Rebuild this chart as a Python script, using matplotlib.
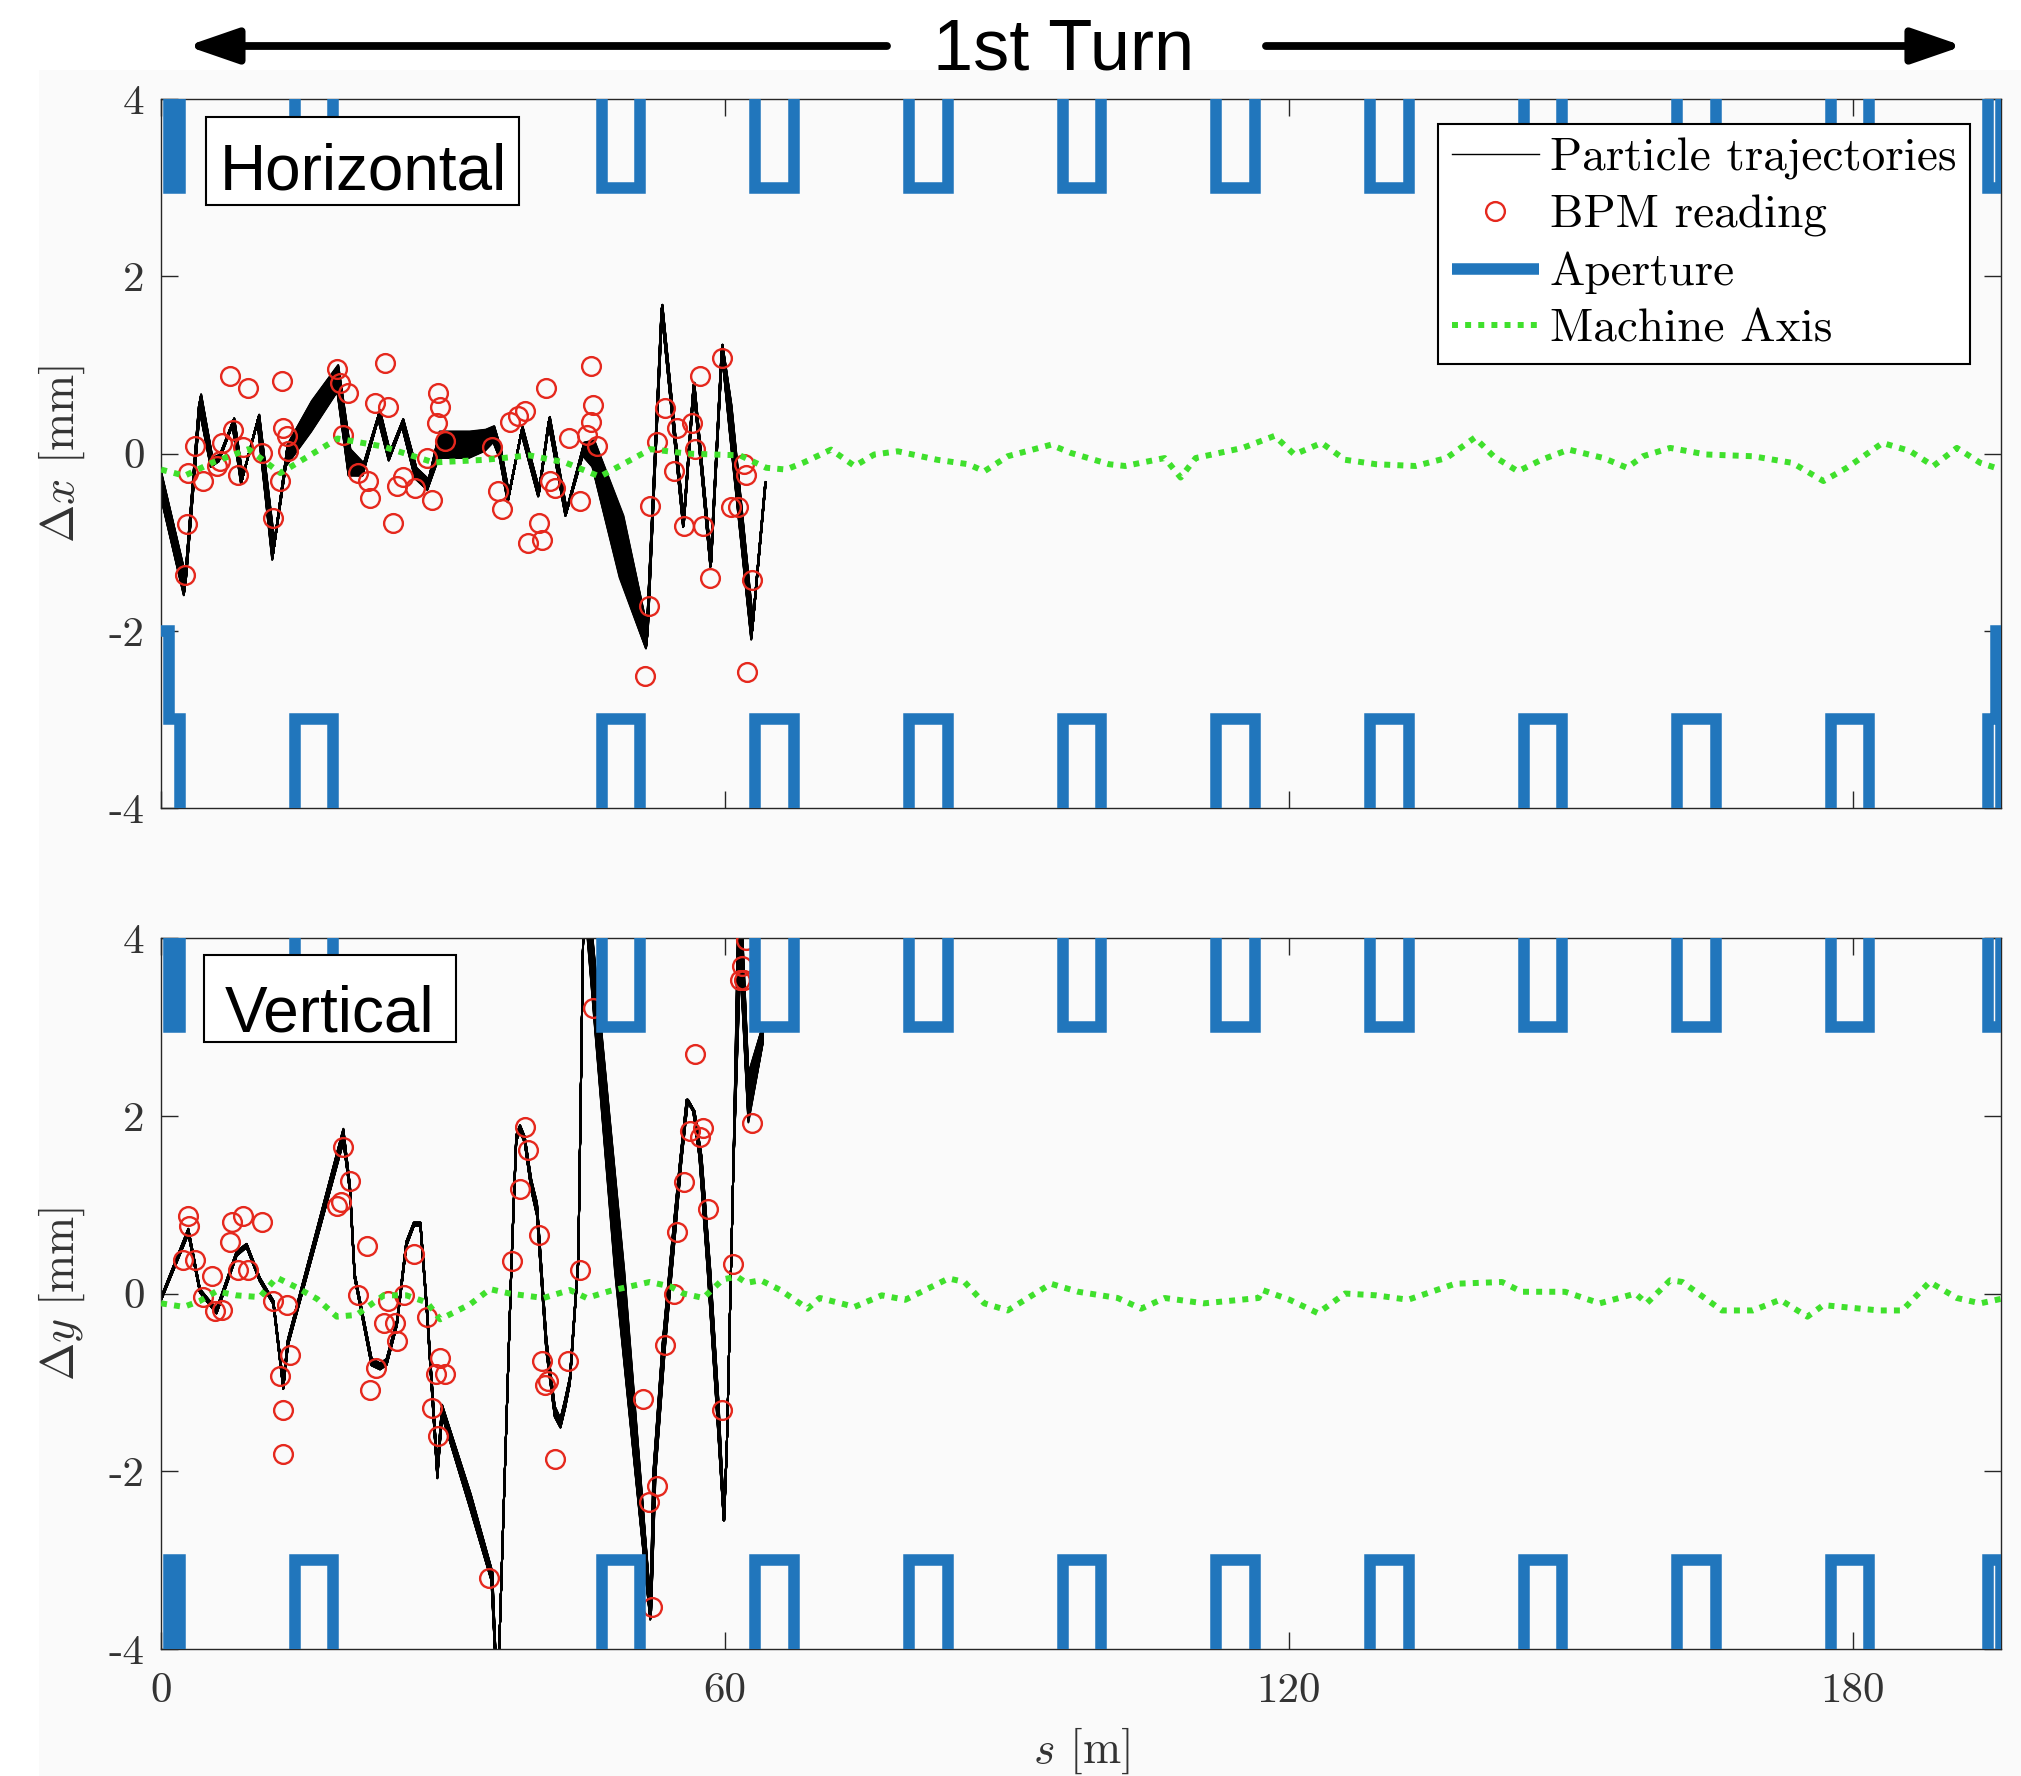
import numpy as np
import matplotlib
matplotlib.use('Agg')
import matplotlib.pyplot as plt
from matplotlib.patches import Rectangle, FancyArrowPatch

plt.rcParams['mathtext.fontset'] = 'cm'
plt.rcParams['axes.unicode_minus'] = False

S_END = 195.8
OPEN = 5.0   # aperture between magnets lies off the plotted range

# quadrupole apertures (start, end) in m
quad_start = [14.2, 46.9, 63.25, 79.6, 95.95, 112.3, 128.65, 145.0, 161.35, 177.7]
quad_end = [18.3, 51.0, 67.35, 83.7, 100.05, 116.4, 132.75, 149.1, 165.45, 181.8]

# horizontal plane: particle bundle (centre, spread along s and x)
hx_s = [0.0, 2.54, 4.14, 5.38, 6.2, 7.69, 8.6, 10.35, 11.95, 13.37, 16.0, 18.8, 20.05, 21.5,
        23.2, 24.3, 25.7, 27.1, 28.4, 29.6, 32.8, 34.5, 35.4, 36.1, 36.96, 38.4, 40.2, 41.3,
        43.1, 44.95, 46.0, 49.0, 51.7, 53.3, 55.6, 56.7, 58.5, 59.7, 60.6, 62.9, 64.3]
hx_v = [-0.35, -1.5, 0.6, -0.1, -0.05, 0.36, -0.3, 0.4, -1.1, -0.02, 0.42, 0.85, -0.1, -0.18,
        0.44, -0.03, 0.35, -0.22, -0.35, 0.1, 0.1, 0.15, 0.22, 0.0, -0.5, 0.27, -0.45, 0.38,
        -0.67, 0.05, 0.0, -1.05, -2.1, 1.65, -0.8, 0.78, -1.25, 1.2, 0.4, -2.0, -0.35]
hx_ds = [0.0, 0.25, 0.25, 0.2, 0.15, 0.2, 0.2, 0.2, 0.25, 0.2, 0.1, 0.1, 0.2, 0.15,
         0.2, 0.15, 0.15, 0.15, 0.15, 0.1, 0.1, 0.1, 0.1, 0.15, 0.15, 0.15, 0.15, 0.15,
         0.15, 0.15, 0.2, 0.4, 0.2, 0.1, 0.1, 0.1, 0.1, 0.1, 0.2, 0.2, 0.1]
hx_dv = [0.3, 0.2, 0.14, 0.1, 0.08, 0.08, 0.08, 0.08, 0.2, 0.25, 0.35, 0.3, 0.3, 0.14,
         0.1, 0.1, 0.08, 0.12, 0.12, 0.3, 0.3, 0.24, 0.18, 0.1, 0.1, 0.07, 0.07, 0.07,
         0.07, 0.15, 0.3, 0.7, 0.2, 0.06, 0.06, 0.04, 0.06, 0.06, 0.3, 0.2, 0.06]

# horizontal BPM readings
bpm_x_s = [2.54, 2.79, 3.61, 2.90, 4.49, 5.91, 6.27, 6.45, 7.33, 7.69, 8.22, 8.75, 9.28, 10.7,
           11.95, 12.65, 12.83, 13.01, 13.37, 13.54, 18.69, 19.04, 19.93, 19.4, 21.0, 22.06,
           22.24, 22.77, 23.83, 24.19, 24.72, 25.07, 25.78, 27.02, 28.27, 28.8, 29.5, 29.7,
           29.34, 30.22, 35.2, 35.9, 36.3, 37.1, 38.0, 38.7, 41.0, 40.2, 39.1, 40.5, 41.4,
           41.9, 43.4, 44.6, 45.3, 45.7, 45.8, 46.0, 46.4, 51.5, 51.9, 52.0, 52.8, 53.6, 54.9,
           54.6, 55.6, 56.5, 56.8, 57.4, 57.7, 58.4, 59.7, 60.7, 61.4, 62.0, 62.2, 62.9, 62.3]
bpm_x_v = [-1.365, -0.80, 0.09, -0.22, -0.31, -0.14, -0.08, 0.12, 0.87, 0.27, -0.24, 0.08,
           0.74, 0.01, -0.73, -0.31, 0.82, 0.29, 0.2, 0.03, 0.95, 0.8, 0.68, 0.215, -0.22,
           -0.31, -0.50, 0.57, 1.02, 0.53, -0.78, -0.37, -0.26, -0.39, -0.05, -0.52, 0.68,
           0.53, 0.35, 0.14, 0.08, -0.42, -0.63, 0.36, 0.42, 0.48, 0.74, -0.78, -1.01, -0.97,
           -0.31, -0.39, 0.18, -0.54, 0.21, 0.36, 0.99, 0.55, 0.09, -2.51, -1.72, -0.59, 0.13,
           0.52, 0.29, -0.2, -0.82, 0.34, 0.05, 0.87, -0.82, -1.4, 1.08, -0.6, -0.6, -0.12,
           -0.24, -1.43, -2.46]

# horizontal machine axis
ax_x_s = [0.0, 2.5, 5.5, 9.3, 12.7, 18.8, 23.6, 29.0, 34.5, 39.2, 43.0, 46.7, 52.1, 56.0,
          61.6, 64.4, 66.5, 68.4, 71.3, 73.8, 75.9, 78.4, 82.6, 85.9, 87.6, 90.1, 94.7, 96.8,
          100.9, 102.6, 106.8, 108.5, 110.1, 115.1, 118.5, 120.6, 123.5, 126.0, 129.3, 133.5,
          136.8, 139.8, 141.8, 144.4, 146.9, 149.8, 153.5, 156.0, 157.7, 160.6, 164.4, 169.4,
          173.6, 176.9, 179.4, 183.2, 186.1, 188.6, 191.1, 193.6, 195.8]
ax_x_v = [-0.18, -0.25, -0.1, 0.05, -0.22, 0.17, 0.08, -0.1, -0.07, -0.02, -0.1, -0.26, 0.05,
          0.0, -0.02, -0.16, -0.18, -0.1, 0.045, -0.14, -0.01, 0.026, -0.07, -0.12, -0.2,
          -0.03, 0.10, 0.008, -0.12, -0.14, -0.05, -0.27, -0.05, 0.064, 0.2, -0.01, 0.12,
          -0.07, -0.12, -0.14, -0.05, 0.18, -0.03, -0.2, -0.07, 0.045, -0.05, -0.16, -0.03,
          0.064, -0.01, -0.03, -0.105, -0.31, -0.16, 0.12, 0.03, -0.14, 0.064, -0.105, -0.18]

# vertical plane: particle bundle (centre, spread along s and y)
vy_s = [0.0, 2.9, 4.14, 5.9, 8.04, 9.1, 10.5, 11.95, 13.0, 13.5, 19.4, 20.1, 20.6, 22.4, 23.3,
        24.0, 25.1, 26.1, 26.9, 27.6, 28.3, 29.0, 29.4, 29.9, 32.9, 35.2, 35.8, 37.3, 37.8,
        38.2, 38.7, 39.4, 40.0, 41.0, 41.9, 42.5, 43.0, 43.5, 44.4, 45.0, 45.4, 48.8, 52.1,
        52.5, 53.5, 54.6, 55.3, 56.0, 56.7, 57.4, 58.3, 59.2, 59.9, 60.2, 60.9, 61.6, 62.5, 64.0]
vy_v = [-0.06, 0.7, 0.03, -0.2, 0.45, 0.54, 0.16, -0.1, -1.04, -0.55, 1.78, 1.18, 0.2, -0.77,
        -0.82, -0.77, -0.33, 0.56, 0.78, 0.78, -0.2, -1.35, -2.02, -1.31, -2.33, -3.18, -4.6,
        0.37, 1.75, 1.86, 1.73, 1.22, 0.95, -0.58, -1.33, -1.46, -1.24, -0.98, 0.37, 4.6, 4.3,
        0.25, -3.62, -2.02, -0.58, 0.69, 1.49, 2.18, 2.05, 1.54, 0.27, -1.22, -2.55, -1.75,
        1.4, 4.2, 2.2, 2.9]
vy_ds = [0, 0, 0, 0, 0, 0, 0, 0, 0, 0, 0, 0, 0, 0, 0, 0, 0, 0, 0, 0, 0, 0, 0, 0, 0.1, 0.1, 0,
         0, 0, 0, 0, 0, 0, 0, 0, 0, 0, 0, 0, 0, 0.5, 1.0, 0.1, 0.25, 0.3, 0.25, 0.15, 0.15,
         0.15, 0.25, 0.3, 0.25, 0.05, 0, 0, 0.4, 0, 0]
vy_dv = [0.03, 0.06, 0.04, 0.05, 0.05, 0.04, 0.04, 0.04, 0.07, 0.07, 0.15, 0.07, 0.05, 0.08,
         0.07, 0.07, 0.05, 0.05, 0.04, 0.04, 0.07, 0.12, 0.12, 0.12, 0.15, 0.1, 0.0, 0.04, 0.07,
         0.07, 0.07, 0.12, 0.15, 0.15, 0.12, 0.1, 0.1, 0.07, 0.04, 0.0, 0.0, 0.0, 0.1, 0.0,
         0.0, 0.0, 0.0, 0.0, 0.0, 0.0, 0.0, 0.0, 0.0, 0.0, 0.0, 0.0, 0.55, 0.2]

# vertical BPM readings
bpm_y_s = [2.9, 3.0, 2.37, 3.61, 4.5, 5.38, 5.74, 6.45, 7.33, 7.51, 8.22, 8.75, 9.28, 10.7,
           11.95, 13.4, 12.65, 13.7, 13.0, 13.0, 19.4, 20.1, 18.7, 19.2, 21.9, 21.0, 24.1,
           23.7, 24.9, 25.8, 25.1, 22.9, 22.2, 26.9, 28.3, 29.7, 29.3, 30.2, 28.8, 29.5, 34.9,
           46.0, 38.7, 39.1, 38.2, 40.2, 37.3, 44.6, 40.5, 43.3, 41.2, 40.9, 41.9, 51.3, 52.8,
           51.9, 52.2, 53.6, 54.6, 54.9, 55.6, 56.3, 57.7, 57.4, 56.8, 58.2, 59.7, 60.9, 62.9,
           62.2, 61.8, 61.6, 62.0]
bpm_y_v = [0.87, 0.76, 0.38, 0.38, -0.04, 0.2, -0.2, -0.18, 0.58, 0.8, 0.27, 0.87, 0.27, 0.8,
           -0.085, -0.13, -0.93, -0.69, -1.31, -1.8, 1.65, 1.27, 0.98, 1.03, 0.54, -0.02,
           -0.085, -0.33, -0.33, -0.02, -0.53, -0.84, -1.09, 0.45, -0.26, -0.73, -0.91, -0.91,
           -1.29, -1.6, -3.2, 3.21, 1.87, 1.62, 1.18, 0.66, 0.37, 0.27, -0.76, -0.76, -0.98,
           -1.03, -1.86, -1.19, -2.16, -2.35, -3.53, -0.58, 0.0, 0.69, 1.26, 1.83, 1.86, 1.76,
           2.7, 0.95, -1.31, 0.33, 1.92, 3.98, 3.69, 3.53, 3.53]

# vertical machine axis
ax_y_s = [0.0, 2.4, 4.1, 5.9, 8.0, 10.5, 12.3, 14.4, 16.6, 18.7, 20.8, 23.7, 26.1, 28.3, 29.7,
          32.9, 35.0, 37.1, 40.7, 43.5, 45.3, 47.8, 49.9, 52.0, 54.2, 55.6, 57.7, 59.8, 61.3,
          62.3, 63.8, 65.9, 68.8, 70.1, 73.8, 76.7, 79.2, 83.8, 85.5, 87.6, 90.1, 94.7, 97.6,
          101.8, 104.3, 106.8, 111.0, 116.8, 117.2, 120.1, 123.1, 126.0, 129.3, 132.7, 137.7,
          142.7, 144.8, 149.4, 153.1, 156.9, 158.1, 160.6, 161.9, 166.1, 169.4, 172.3, 175.2,
          176.9, 182.8, 185.3, 188.2, 191.1, 193.6, 195.8]
ax_y_v = [-0.11, -0.15, -0.085, 0.026, -0.02, -0.04, 0.18, 0.07, -0.06, -0.26, -0.24, -0.02,
          -0.02, -0.1, -0.29, -0.12, 0.05, 0.0, -0.05, 0.04, -0.05, 0.03, 0.08, 0.13, 0.08,
          0.0, -0.05, 0.16, 0.19, 0.12, 0.15, 0.04, -0.17, -0.05, -0.15, -0.02, -0.07, 0.17,
          0.13, -0.11, -0.19, 0.11, 0.02, -0.05, -0.17, -0.05, -0.11, -0.05, 0.04, -0.07,
          -0.22, 0.0, -0.02, -0.07, 0.11, 0.13, 0.02, 0.02, -0.11, 0.0, -0.11, 0.15, 0.13,
          -0.19, -0.19, -0.07, -0.26, -0.13, -0.19, -0.19, 0.13, -0.05, -0.11, -0.06]

BLUE = '#2176bc'
RED = '#e5281d'
GREEN = '#3fe02c'
BG = '#fafafa'
INK = '#262626'


def aperture_line(segs):
    # turn restricted segments (start, end, value) into a step line
    xs, ys = [], []
    for i, (a, b, val) in enumerate(segs):
        open_val = OPEN if val > 0 else -OPEN
        joined_prev = i > 0 and segs[i - 1][1] == a
        joined_next = i < len(segs) - 1 and segs[i + 1][0] == b
        if not joined_prev and a > 0:
            xs.append(a)
            ys.append(open_val)
        xs += [a, b]
        ys += [val, val]
        if not joined_next:
            xs.append(b)
            ys.append(open_val)
    return xs, ys


def quads(val):
    return [(a, b, val) for a, b in zip(quad_start, quad_end)]


def draw_bundle(ax, s, v, ds, dv, n=61):
    s, v, ds, dv = map(np.asarray, (s, v, ds, dv))
    lines = None
    for t in np.linspace(-0.5, 0.5, n):
        lines = ax.plot(s + t * ds, v + t * dv, color='k', lw=1.4, zorder=2)
    return lines[0]


fig = plt.figure(figsize=(20.21, 17.76), dpi=100, facecolor='white')
fig.add_artist(Rectangle((0.0193, 0), 1, 0.9606, transform=fig.transFigure,
                         facecolor=BG, edgecolor='none', zorder=-10))

ax1 = fig.add_axes([0.0797, 0.545, 0.9104, 0.3992])
ax2 = fig.add_axes([0.0797, 0.0715, 0.9104, 0.4003])

h_upper = [(0.8, 2.05, 3)] + quads(3) + [(194.4, S_END, 3)]
h_lower = [(0, 0.8, -2), (0.8, 2.05, -3)] + quads(-3) + [(194.4, 195.3, -3), (195.3, S_END, -2)]
v_upper = [(0.8, 2.05, 3)] + quads(3) + [(194.4, S_END, 3)]
v_lower = [(0.8, 2.05, -3)] + quads(-3) + [(194.4, S_END, -3)]

panels = [
    (ax1, hx_s, hx_v, hx_ds, hx_dv, bpm_x_s, bpm_x_v, ax_x_s, ax_x_v,
     h_upper, h_lower, r'$\Delta x$ [mm]'),
    (ax2, vy_s, vy_v, vy_ds, vy_dv, bpm_y_s, bpm_y_v, ax_y_s, ax_y_v,
     v_upper, v_lower, r'$\Delta y$ [mm]'),
]

for ax, ts, tv, tds, tdv, bs, bv, ms, mv, up, lo, ylab in panels:
    ax.set_facecolor(BG)
    h_traj = draw_bundle(ax, ts, tv, tds, tdv)
    h_bpm, = ax.plot(bs, bv, 'o', mfc='none', mec=RED, ms=13.5, mew=1.7, zorder=3)
    ux, uy = aperture_line(up)
    lx, ly = aperture_line(lo)
    h_ap, = ax.plot(ux, uy, color=BLUE, lw=8.3, solid_joinstyle='miter',
                    solid_capstyle='butt', zorder=4)
    ax.plot(lx, ly, color=BLUE, lw=8.3, solid_joinstyle='miter',
            solid_capstyle='butt', zorder=4)
    h_axis, = ax.plot(ms, mv, color=GREEN, lw=4.3, ls=(0, (1, 1.2)), zorder=5)

    ax.set_xlim(0, S_END)
    ax.set_ylim(-4, 4)
    ax.set_xticks([0, 60, 120, 180])
    ax.set_yticks([-4, -2, 0, 2, 4])
    ax.set_yticklabels(['-4', '-2', '0', '2', '4'], fontfamily='cmr10', fontsize=31, color='#333333')
    ax.tick_params(direction='in', length=12, width=1.0, top=True, right=True,
                   color=INK, pad=12)
    ax.tick_params(axis='x', pad=17)
    for sp in ax.spines.values():
        sp.set_color(INK)
        sp.set_linewidth(1.0)
    ax.set_ylabel(ylab, fontfamily='cmr10', fontsize=33, color='#333333')
    ax.yaxis.set_label_coords(-0.040, 0.5)

ax1.set_xticklabels([])
ax2.set_xticklabels(['0', '60', '120', '180'], fontfamily='cmr10', fontsize=31, color='#333333')
ax2.set_xlabel(r'$s$ [m]', fontfamily='cmr10', fontsize=33, color='#333333')
ax2.xaxis.set_label_coords(0.5, -0.108)

leg = ax1.legend([h_traj, h_bpm, h_ap, h_axis],
                 ['Particle trajectories', 'BPM reading', 'Aperture', 'Machine Axis'],
                 loc='upper right', bbox_to_anchor=(0.983, 0.9647), borderaxespad=0,
                 fancybox=False, edgecolor='k', facecolor='white', framealpha=1,
                 prop={'family': 'cmr10', 'size': 34}, handlelength=1.85,
                 handletextpad=0.23, labelspacing=0.31, borderpad=0.28)
leg.get_frame().set_linewidth(1.5)
leg.set_zorder(10)
for line in leg.get_lines()[:1]:
    line.set_linewidth(1.0)

# plane tags
for ax, label, box, tx, ty in [(ax1, 'Horizontal', (0.0245, 0.8505, 0.1701, 0.1241), 0.1098, 0.8724),
                               (ax2, 'Vertical', (0.0234, 0.8537, 0.137, 0.1224), 0.0918, 0.869)]:
    ax.add_patch(Rectangle(box[:2], box[2], box[3], transform=ax.transAxes,
                           facecolor='white', edgecolor='k', lw=1.5, zorder=8))
    ax.text(tx, ty, label, transform=ax.transAxes, ha='center', va='baseline',
            fontsize=46, family='Liberation Sans', zorder=9)

# turn banner
fig.text(0.5265, 0.9608, '1st Turn', ha='center', va='baseline', fontsize=52,
         family='Liberation Sans')
for x0, x1 in [(0.4389, 0.0925), (0.6264, 0.9713)]:
    fig.add_artist(FancyArrowPatch((x0, 0.9741), (x1, 0.9741), transform=fig.transFigure,
                                   arrowstyle='-|>,head_length=1.1,head_width=0.38',
                                   mutation_scale=28, lw=5.6, color='k',
                                   shrinkA=0, shrinkB=0))

fig.savefig('out.png', dpi=100, facecolor='white')
